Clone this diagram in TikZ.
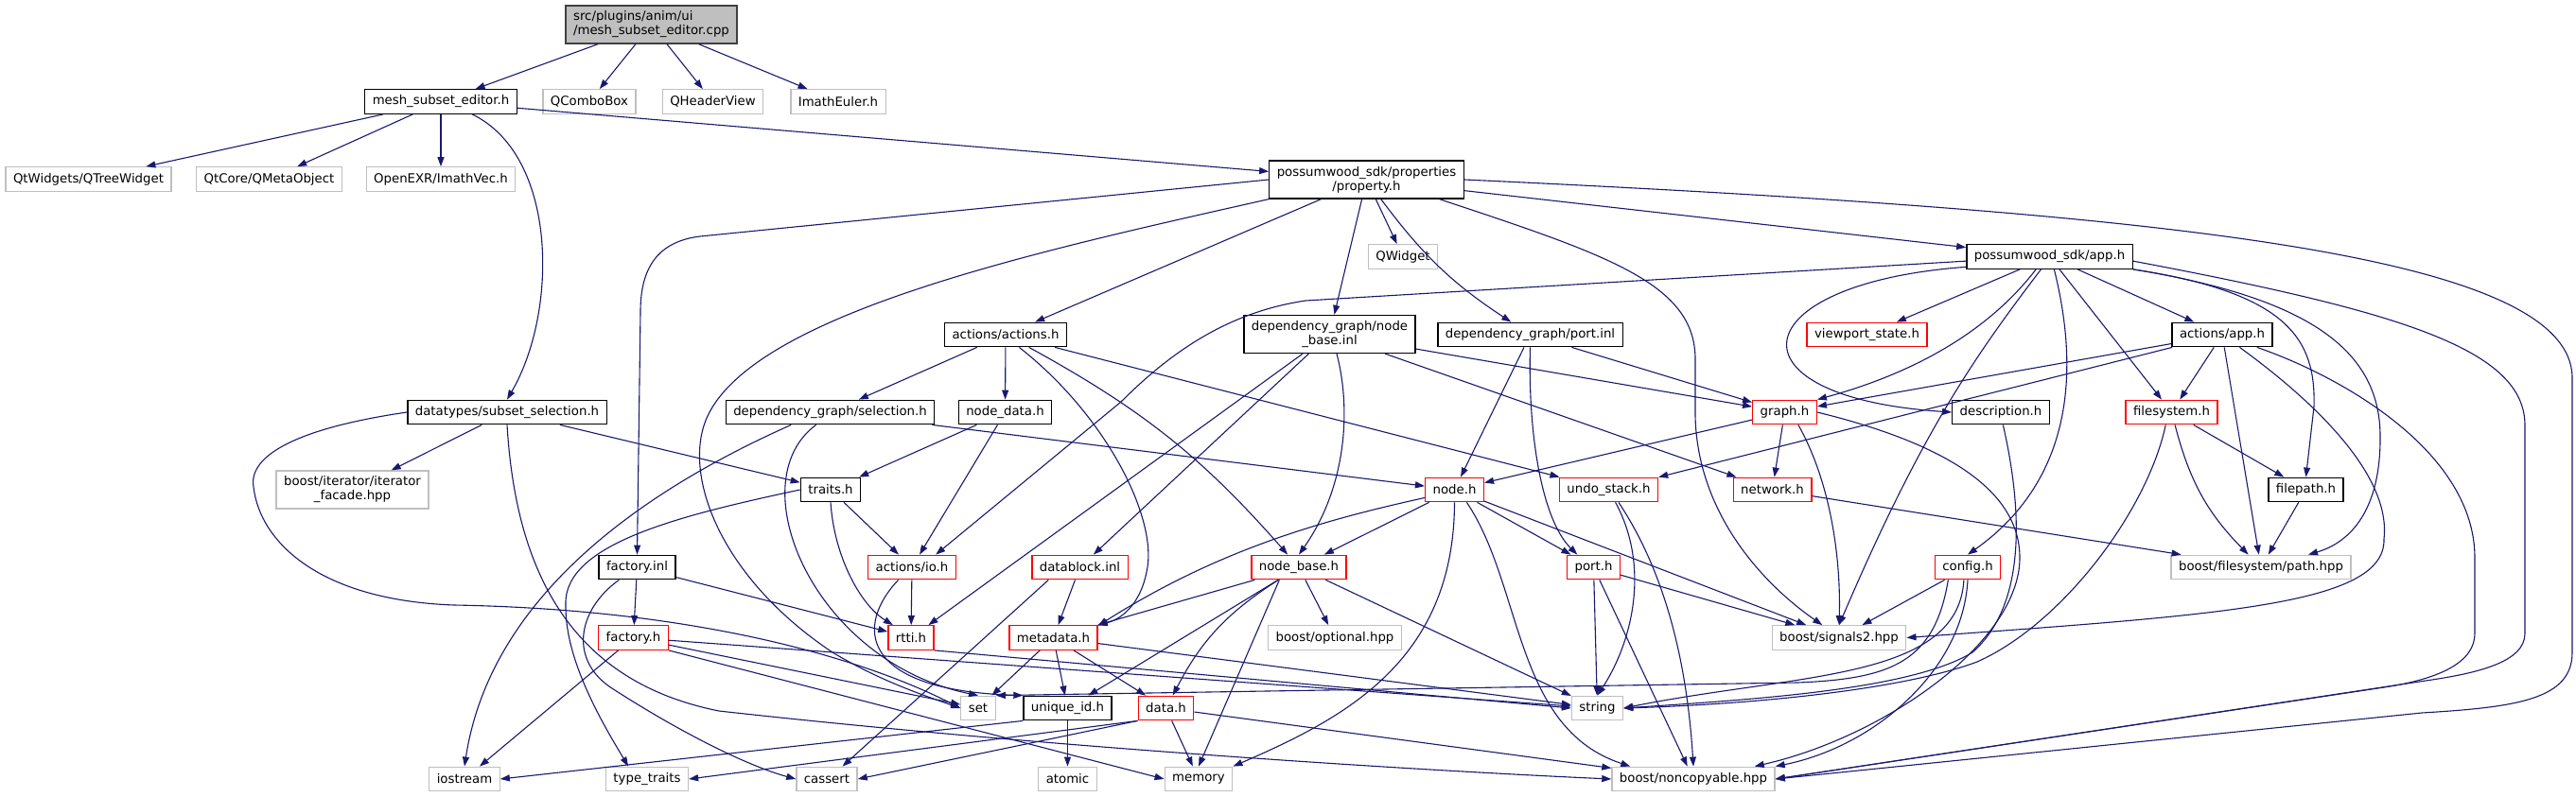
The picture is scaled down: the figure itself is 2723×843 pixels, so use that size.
\documentclass[tikz,border=0pt]{standalone}
\usepackage{fontspec}
\setmainfont{DejaVu Sans}
\usepackage{xcolor}
\usepackage{tikz}
\usetikzlibrary{arrows.meta, calc}
\definecolor{dox-blue}{HTML}{191970}
\definecolor{dox-red}{HTML}{FF0000}
\definecolor{dox-gray}{HTML}{BFBFBF}
\definecolor{dox-dark}{HTML}{404040}

\begin{document}
\begin{tikzpicture}[
    x=1pt, y=-1pt,
    >={Triangle[length=10pt, width=7pt]},
    file/.style={draw=black, fill=white, line width=1.3pt, inner xsep=8pt, inner ysep=0pt, minimum height=25.5pt, font=\fontsize{13.3}{15}\selectfont},
    ext/.style={draw=dox-gray},
    trunc/.style={draw=dox-red},
    main/.style={draw=dox-dark, fill=dox-gray},
    two/.style={minimum height=40pt, align=center},
    dep/.style={->, draw=dox-blue, line width=1.1pt}
]
    \useasboundingbox (0,0) rectangle (2723,843);
    \fill [white] (0,0) rectangle (2723,843);

    \node (cpp) [file, main, two, align=left] at (688.5,26) {src/plugins/anim/ui\\/mesh\_subset\_editor.cpp};
    \node (mseh) [file] at (466,107.5) {mesh\_subset\_editor.h};
    \node (qcombo) [file, ext] at (623,107.5) {QComboBox};
    \node (qheader) [file, ext] at (753.5,107.5) {QHeaderView};
    \node (imatheuler) [file, ext] at (886,107.5) {ImathEuler.h};
    \node (qtree) [file, ext] at (93.5,189.5) {QtWidgets/QTreeWidget};
    \node (qmeta) [file, ext] at (284.5,189.5) {QtCore/QMetaObject};
    \node (imathvec) [file, ext] at (466,189.5) {OpenEXR/ImathVec.h};
    \node (prop) [file, two] at (1444.5,190) {possumwood\_sdk/properties\\/property.h};
    \node (qwidget) [file, ext] at (1483,271.5) {QWidget};
    \node (apph) [file] at (2166.5,271.5) {possumwood\_sdk/app.h};
    \node (actions) [file] at (1063,354) {actions/actions.h};
    \node (nbinl) [file, two] at (1405.5,353.5) {dependency\_graph/node\\\_base.inl};
    \node (portinl) [file] at (1617.5,354) {dependency\_graph/port.inl};
    \node (viewport) [file, trunc] at (1973.5,354) {viewport\_state.h};
    \node (actapp) [file] at (2349,354) {actions/app.h};
    \node (subsel) [file] at (536,436) {datatypes/subset\_selection.h};
    \node (dgsel) [file] at (877.5,436) {dependency\_graph/selection.h};
    \node (nodedata) [file] at (1062.5,436) {node\_data.h};
    \node (graph) [file, trunc] at (1886.5,436) {graph.h};
    \node (descr) [file] at (2115,436) {description.h};
    \node (fsys) [file, trunc] at (2295.5,436) {filesystem.h};
    \node (facade) [file, ext, two] at (372.5,518) {boost/iterator/iterator\\\_facade.hpp};
    \node (traits) [file] at (878,518) {traits.h};
    \node (nodeh) [file, trunc] at (1537.5,518) {node.h};
    \node (undo) [file, trunc] at (1700.5,518) {undo\_stack.h};
    \node (network) [file, trunc] at (1873.5,518) {network.h};
    \node (filepath) [file] at (2437.5,518) {filepath.h};
    \node (factinl) [file] at (673.5,600) {factory.inl};
    \node (io) [file, trunc] at (964,600) {actions/io.h};
    \node (datablock) [file, trunc] at (1141.5,600) {datablock.inl};
    \node (nodebase) [file, trunc] at (1373,600) {node\_base.h};
    \node (porth) [file, trunc] at (1684.5,600) {port.h};
    \node (config) [file, trunc] at (2080,600) {config.h};
    \node (fspath) [file, ext] at (2390,600) {boost/filesystem/path.hpp};
    \node (factory) [file, trunc] at (669.5,674.5) {factory.h};
    \node (rtti) [file, trunc] at (963,674.5) {rtti.h};
    \node (metadata) [file, trunc] at (1113.5,674.5) {metadata.h};
    \node (optional) [file, ext] at (1411,674.5) {boost/optional.hpp};
    \node (signals) [file, ext] at (1944,674.5) {boost/signals2.hpp};
    \node (set) [file, ext] at (1034,749) {set};
    \node (uid) [file] at (1128.5,749) {unique\_id.h};
    \node (data) [file, trunc] at (1232.5,749) {data.h};
    \node (string) [file, ext] at (1688.5,749) {string};
    \node (iostream) [file, ext] at (491,824) {iostream};
    \node (typetraits) [file, ext] at (684,824) {type\_traits};
    \node (cassert) [file, ext] at (874,824) {cassert};
    \node (atomic) [file, ext] at (1128.5,824) {atomic};
    \node (memory) [file, ext] at (1267,824) {memory};
    \node (noncopy) [file, ext] at (1790,824) {boost/noncopyable.hpp};

    \draw [dep] (cpp) -- (mseh);
    \draw [dep] (cpp) -- (qcombo);
    \draw [dep] (cpp) -- (qheader);
    \draw [dep] (cpp) -- (imatheuler);

    \draw [dep] (mseh) -- (qtree);
    \draw [dep] (mseh) -- (qmeta);
    \draw [dep] (mseh) -- (imathvec);
    \draw [dep] (mseh) -- (prop);
    \draw [dep] (mseh.-22) .. controls (590,165) and (590,330) .. (subsel.north);

    \draw [dep] (prop) -- (qwidget);
    \draw [dep] (prop) -- (nbinl);
    \draw [dep] (prop) to[bend right=10] (portinl);
    \draw [dep] (prop) -- (actions);
    \draw [dep] (prop) -- (apph);
    \draw [dep] (prop.west) -- (740,250) .. controls (690,256) and (677,290) .. (677,330) -- (factinl.north);
    \draw [dep] (prop.south west) .. controls (1100,265) and (800,330) .. (748,440) .. controls (720,500) and (760,610) .. (880,690) .. controls (930,720) and (975,735) .. (set.west);
    \draw [dep] (prop.-15) .. controls (1700,270) and (1792,300) .. (1792,380) -- (1792,440) .. controls (1794,540) and (1860,615) .. (signals.143);
    \draw [dep] (prop.east) .. controls (2300,225) and (2719,270) .. (2719,400) -- (2719,690) .. controls (2719,740) and (2660,748) .. (2560,754) -- (noncopy.east);

    \draw [dep] (actions) -- (dgsel);
    \draw [dep] (actions) -- (nodedata);
    \draw [dep] (actions.-43) .. controls (1170,440) and (1225,550) .. (1212,605) .. controls (1205,640) and (1185,655) .. (metadata.north east);
    \draw [dep] (actions) to[bend left=10] (nodebase);
    \draw [dep] (actions) -- (undo);

    \draw [dep] (nbinl) -- (datablock);
    \draw [dep] (nbinl) -- (rtti);
    \draw [dep] (nbinl.-70) .. controls (1430,440) and (1420,520) .. (nodebase.north);
    \draw [dep] (nbinl) -- (graph);
    \draw [dep] (nbinl) -- (network);

    \draw [dep] (portinl) -- (nodeh);
    \draw [dep] (portinl.south) .. controls (1615,460) and (1630,550) .. (porth.142);
    \draw [dep] (portinl) -- (graph);

    \draw [dep] (apph) -- (viewport);
    \draw [dep] (apph.187) .. controls (1840,300) and (1820,420) .. (descr.west);
    \draw [dep] (apph.-137) .. controls (2110,340) and (2040,390) .. (graph.north east);
    \draw [dep] (apph.183) -- (1380,318) .. controls (1300,330) and (1240,370) .. (1185,425) -- (io.28);
    \draw [dep] (apph) -- (actapp);
    \draw [dep] (apph) -- (fsys);
    \draw [dep] (apph.-70) .. controls (2210,440) and (2160,530) .. (config.north);
    \draw [dep] (apph.-124) .. controls (2085,380) and (2030,460) .. (signals.north);
    \draw [dep] (apph.south east) .. controls (2420,310) and (2448,360) .. (2446,430) -- (filepath.north);
    \draw [dep] (apph.south east) .. controls (2440,315) and (2515,370) .. (2516,460) .. controls (2517,545) and (2480,575) .. (fspath.15);
    \draw [dep] (apph.-3) .. controls (2540,330) and (2669,370) .. (2669,450) -- (2669,670) .. controls (2669,700) and (2620,712) .. (2564,720) -- (noncopy.east);

    \draw [dep] (actapp) -- (graph);
    \draw [dep] (actapp) -- (undo);
    \draw [dep] (actapp) -- (fsys);
    \draw [dep] (actapp) -- (fspath);
    \draw [dep] (actapp.-36) .. controls (2440,420) and (2528,500) .. (2520,570) .. controls (2522,640) and (2350,650) .. (signals.east);
    \draw [dep] (actapp.-20) .. controls (2480,400) and (2616,480) .. (2616,590) -- (2616,670) .. controls (2616,700) and (2580,718) .. (2520,727) -- (noncopy.east);

    \draw [dep] (subsel) -- (facade);
    \draw [dep] (subsel) -- (traits);
    \draw [dep] (subsel.west) .. controls (320,452) and (262,480) .. (268,515) .. controls (275,575) and (340,635) .. (480,640) .. controls (760,645) and (930,705) .. (set.west);
    \draw [dep] (subsel.south) .. controls (545,600) and (600,720) .. (760,752) .. controls (1100,790) and (1500,815) .. (noncopy.west);

    \draw [dep] (dgsel.198) .. controls (700,510) and (520,620) .. (iostream.north);
    \draw [dep] (dgsel.-138) .. controls (780,510) and (860,700) .. (set.north);
    \draw [dep] (dgsel) -- (nodeh);

    \draw [dep] (nodedata) -- (traits);
    \draw [dep] (nodedata) -- (io);
    \draw [dep] (traits) -- (io);
    \draw [dep] (traits.south) .. controls (882,590) and (910,640) .. (rtti.145);
    \draw [dep] (traits.west) .. controls (720,545) and (595,575) .. (598,640) .. controls (597,700) and (640,770) .. (typetraits.146);

    \draw [dep] (factinl) -- (factory);
    \draw [dep] (factinl) -- (rtti);
    \draw [dep] (factinl.-145) .. controls (610,645) and (600,700) .. (650,730) .. controls (720,775) and (790,810) .. (cassert.west);
    \draw [dep] (factory) -- (iostream);
    \draw [dep] (factory) -- (set);
    \draw [dep] (factory) -- (string);
    \draw [dep] (factory.south east) -- (memory.west);

    \draw [dep] (io) -- (rtti);
    \draw [dep] (io.-137) .. controls (905,660) and (905,730) .. (uid.north west);
    \draw [dep] (datablock) -- (metadata);
    \draw [dep] (datablock.-158) -- (cassert.39);

    \draw [dep] (nodebase) -- (metadata);
    \draw [dep] (nodebase) -- (uid);
    \draw [dep] (nodebase) to[bend right=15] (data);
    \draw [dep] (nodebase.-147) -- (memory.north);
    \draw [dep] (nodebase) -- (string);
    \draw [dep] (nodebase) -- (optional);

    \draw [dep] (nodeh) -- (nodebase);
    \draw [dep] (nodeh.195) .. controls (1400,550) and (1290,580) .. (metadata.15);
    \draw [dep] (nodeh) -- (porth);
    \draw [dep] (nodeh) -- (signals);
    \draw [dep] (nodeh.south) .. controls (1537,700) and (1420,760) .. (memory.north east);
    \draw [dep] (nodeh.-46) .. controls (1610,620) and (1600,770) .. ($(noncopy.north west)+(20,0)$);

    \draw [dep] (undo.-62) .. controls (1745,600) and (1725,680) .. (string.north);
    \draw [dep] (undo.-52) .. controls (1770,620) and (1785,730) .. (noncopy.north);
    \draw [dep] (network) -- (fspath);
    \draw [dep] (porth) -- (string);
    \draw [dep] (porth) -- (signals);
    \draw [dep] (porth) -- (noncopy);

    \draw [dep] (graph) -- (nodeh);
    \draw [dep] (graph) -- (network);
    \draw [dep] (graph.-43) .. controls (1935,510) and (1946,590) .. (signals.north);
    \draw [dep] (graph.east) .. controls (2060,470) and (2135,520) .. (2135,590) .. controls (2135,680) and (1990,780) .. ($(noncopy.north east)+(-22,0)$);

    \draw [dep] (config) -- (signals);
    \draw [dep] (config.-107) .. controls (2070,720) and (1900,712) .. (string.east);
    \draw [dep] (config.-147) .. controls (2045,700) and (2000,718) .. (1900,722) -- (set.north east);
    \draw [dep] (config.-90) .. controls (2075,710) and (1980,790) .. (noncopy.north east);

    \draw [dep] (descr.-80) .. controls (2138,540) and (2142,640) .. (2085,690) .. controls (2020,730) and (1850,740) .. (string.east);
    \draw [dep] (fsys.-115) .. controls (2270,540) and (2180,660) .. (2090,700) .. controls (2010,730) and (1850,745) .. (string.east);
    \draw [dep] (fsys) -- (filepath);
    \draw [dep] (fsys) to[bend right=15] (fspath);
    \draw [dep] (filepath) -- (fspath);

    \draw [dep] (metadata) -- (set);
    \draw [dep] (metadata) -- (uid);
    \draw [dep] (metadata) -- (data);
    \draw [dep] (metadata) -- (string);
    \draw [dep] (rtti.south east) -- (string.west);

    \draw [dep] (uid) -- (atomic);
    \draw [dep] (uid.south west) -- (iostream.east);
    \draw [dep] (data) -- (memory);
    \draw [dep] (data.south west) -- (cassert.east);
    \draw [dep] (data.south west) -- (typetraits.east);
    \draw [dep] (data) -- (noncopy);
\end{tikzpicture}
\end{document}
